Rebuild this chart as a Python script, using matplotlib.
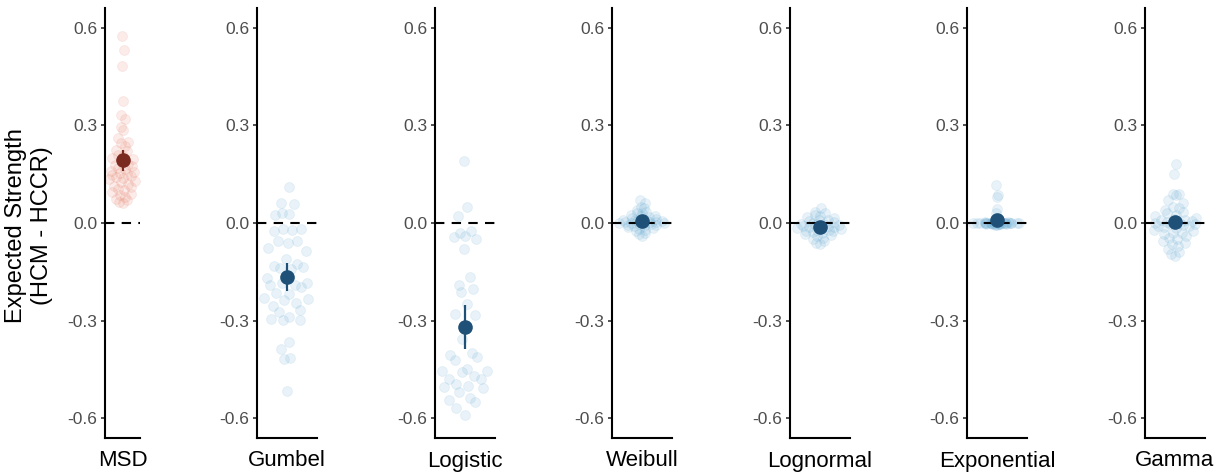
import numpy as np
import matplotlib
matplotlib.use("Agg")
import matplotlib.pyplot as plt

plt.rcParams['font.family'] = ['Liberation Sans', 'DejaVu Sans']

# per-participant values
categories = ["MSD", "Gumbel", "Logistic", "Weibull", "Lognormal", "Exponential", "Gamma"]

msd = [0.575, 0.53, 0.483, 0.374, 0.332, 0.318, 0.295, 0.285, 0.26, 0.25, 0.245, 0.235,
       0.225, 0.22, 0.21, 0.205, 0.2, 0.195, 0.185, 0.18, 0.178, 0.175, 0.17, 0.165,
       0.16, 0.158, 0.155, 0.15, 0.148, 0.145, 0.14, 0.138, 0.135, 0.13, 0.125, 0.12,
       0.115, 0.11, 0.105, 0.1, 0.095, 0.09, 0.085, 0.08, 0.075, 0.07, 0.065, 0.06]
gumbel = [0.109, 0.060, 0.057, 0.032, 0.027, 0.025, -0.019, -0.021, -0.025, -0.019,
          -0.054, -0.055, -0.060, -0.078, -0.086, -0.111, -0.127, -0.132, -0.134, -0.137,
          -0.140, -0.170, -0.183, -0.185, -0.190, -0.190, -0.195, -0.214, -0.218, -0.231,
          -0.234, -0.236, -0.245, -0.255, -0.267, -0.274, -0.288, -0.295, -0.298, -0.298,
          -0.366, -0.387, -0.415, -0.416, -0.516]
logistic = [0.191, 0.050, 0.021, -0.024, -0.030, -0.039, -0.042, -0.049, -0.081, -0.165,
            -0.190, -0.203, -0.213, -0.249, -0.280, -0.282, -0.357, -0.400, -0.405, -0.412,
            -0.420, -0.449, -0.453, -0.453, -0.456, -0.469, -0.480, -0.480, -0.495, -0.500,
            -0.504, -0.505, -0.518, -0.538, -0.543, -0.550, -0.569, -0.589]
weibull = [0.07, 0.06, 0.05, 0.045, 0.04, 0.035, 0.03, 0.03, 0.025, 0.02, 0.02, 0.018,
           0.015, 0.012, 0.01, 0.01, 0.008, 0.006, 0.005, 0.004, 0.003, 0.002, 0.001, 0.0,
           0.0, -0.001, -0.002, -0.003, -0.005, -0.006, -0.008, -0.01, -0.012, -0.015,
           -0.018, -0.02, -0.025, -0.03, -0.035, -0.04]
lognormal = [0.045, 0.035, 0.03, 0.025, 0.02, 0.018, 0.015, 0.01, 0.008, 0.005, 0.003, 0.0,
             -0.002, -0.004, -0.005, -0.007, -0.008, -0.01, -0.012, -0.013, -0.015, -0.016,
             -0.018, -0.02, -0.022, -0.024, -0.026, -0.028, -0.03, -0.033, -0.036, -0.04,
             -0.045, -0.05, -0.055, -0.06, -0.065]
exponential = [0.117, 0.086, 0.081, 0.042, 0.03, 0.004, 0.003, 0.003, 0.002, 0.002, 0.002,
               0.001, 0.001, 0.001, 0.001, 0.0, 0.0, 0.0, 0.0, 0.0, 0.0, 0.0, 0.0, 0.0,
               0.0, 0.0, 0.0, -0.001, -0.001, -0.001, -0.001, -0.002, -0.002, -0.002,
               -0.003, -0.003, -0.004, -0.004, -0.005, -0.006]
gamma = [0.18, 0.15, 0.09, 0.088, 0.085, 0.07, 0.06, 0.05, 0.045, 0.04, 0.035, 0.03,
         0.025, 0.02, 0.015, 0.012, 0.01, 0.008, 0.005, 0.003, 0.0, 0.0, -0.002, -0.004,
         -0.006, -0.008, -0.01, -0.012, -0.015, -0.02, -0.025, -0.03, -0.03, -0.035, -0.04,
         -0.045, -0.05, -0.055, -0.06, -0.065, -0.07, -0.08, -0.09, -0.095, -0.1]

series = [msd, gumbel, logistic, weibull, lognormal, exponential, gamma]
yticks = [-0.6, -0.3, 0.0, 0.3, 0.6]
ytick_labels = ["-0.6", "-0.3", "0.0", "0.3", "0.6"]


def vdc(k, base=2):
    v, denom = 0.0, 1.0
    while k:
        k, r = divmod(k, base)
        denom *= base
        v += r / denom
    return v


def quasirandom(vals, width=0.42):
    # simple quasirandom (beeswarm-ish) offsets scaled by a kernel density
    y = np.asarray(vals, float)
    n = len(y)
    sd = y.std(ddof=1)
    iqr = np.subtract(*np.percentile(y, [75, 25]))
    bw = 0.9 * min(sd, iqr / 1.34 if iqr > 0 else sd) * n ** -0.2
    bw = max(bw, 1e-3)
    dens = np.exp(-0.5 * ((y[:, None] - y[None, :]) / bw) ** 2).sum(axis=1)
    dens = dens / dens.max()
    order = np.argsort(y, kind="stable")
    off = np.zeros(n)
    for rank, idx in enumerate(order):
        off[idx] = (vdc(rank + 1) - 0.5) * 2 * width * dens[idx]
    return off


fig = plt.figure(figsize=(12.2, 4.72), dpi=100)
W, H = 1220, 472
top_px, bot_px = 8, 438
lefts = [105, 257, 435, 612, 790, 967, 1145]
widths = [35, 60, 60, 60, 60, 60, 60]

for i, (name, vals) in enumerate(zip(categories, series)):
    ax = fig.add_axes([lefts[i] / W, (H - bot_px) / H, widths[i] / W, (bot_px - top_px) / H])
    is_msd = (i == 0)
    pt_col = "#E8826E" if is_msd else "#6BAED6"
    mean_col = "#7B2A1F" if is_msd else "#1F5077"
    y = np.asarray(vals)
    x = quasirandom(y)
    ax.scatter(x, y, s=50, color=pt_col, alpha=0.15, linewidths=0.6,
               edgecolors=pt_col, zorder=1, clip_on=False)
    ax.axhline(0, color="black", lw=1.5, ls=(0, (4.5, 3.5)), zorder=2)
    m = y.mean()
    ci = 1.96 * y.std(ddof=1) / np.sqrt(len(y))
    ax.errorbar([0], [m], yerr=[ci], fmt="o", color=mean_col, ms=9.5,
                elinewidth=1.6, capsize=0, zorder=3)
    ax.set_xlim(-0.5, 0.5)
    ax.set_ylim(-0.66, 0.66)
    ax.set_yticks(yticks)
    ax.set_yticklabels(ytick_labels)
    ax.set_xticks([0])
    ax.set_xticklabels([name])
    ax.tick_params(axis="y", length=3, width=1.2, color="#333333", pad=2.5,
                   labelsize=12.5, labelcolor="#4D4D4D")
    ax.tick_params(axis="x", length=0, pad=9, labelsize=16, labelcolor="black")
    for s in ["top", "right"]:
        ax.spines[s].set_visible(False)
    for s in ["left", "bottom"]:
        ax.spines[s].set_linewidth(1.5)
        ax.spines[s].set_color("black")
    ax.patch.set_alpha(0)

fig.text(29 / W, 1 - 226 / H, "Expected Strength\n(HCM - HCCR)", rotation=90,
         ha="center", va="center", multialignment="center", fontsize=17)

fig.savefig("out.png", dpi=100)
